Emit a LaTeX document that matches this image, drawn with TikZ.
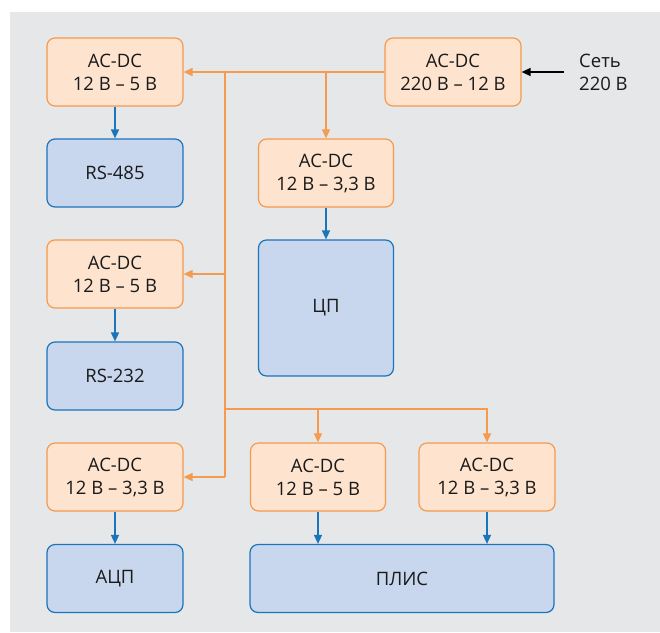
\documentclass[tikz,border=0pt]{standalone}
\usepackage{fontspec}
\setmainfont{Open Sans}
\usetikzlibrary{arrows.meta}
\definecolor{panel}{HTML}{E6E7E9}
\definecolor{ofill}{HTML}{FEE4CF}
\definecolor{oline}{HTML}{F59A4F}
\definecolor{bfill}{HTML}{C8D6EE}
\definecolor{bline}{HTML}{1B75BB}
\definecolor{txt}{HTML}{1A1A1A}
\tikzset{
  box/.style={rounded corners=8pt, line width=1.2pt, minimum width=136pt, minimum height=68pt,
    align=center, inner sep=0pt, text=txt, font=\fontsize{18.5}{23}\selectfont},
  obox/.style={box, draw=oline, fill=ofill},
  bbox/.style={box, draw=bline, fill=bfill},
  owire/.style={draw=oline, line width=1.5pt},
  oarrow/.style={owire, -{Triangle[length=9pt,width=8pt]}},
  barrow/.style={draw=bline, line width=1.5pt, -{Triangle[length=9pt,width=8pt]}},
  karrow/.style={draw=black, line width=1.5pt, -{Triangle[length=9pt,width=8pt]}},
}
\begin{document}
\begin{tikzpicture}[x=1pt,y=-1pt]
\useasboundingbox (0,0) rectangle (660,632);
\fill[panel] (10,12) rectangle (660,632);

\node[obox] (p1) at (115,72) {AC-DC\\12 В – 5 В};
\node[bbox] (rs485) at (115,173) {RS-485};
\node[obox] (p2) at (115,274) {AC-DC\\12 В – 5 В};
\node[bbox] (rs232) at (115,376) {RS-232};
\node[obox] (p3) at (115,477) {AC-DC\\12 В – 3,3 В};
\node[bbox] (adc) at (115,578.5) {АЦП};

\node[obox] (main) at (453,72) {AC-DC\\220 В – 12 В};
\node[obox, minimum width=135pt] (p4) at (326,173) {AC-DC\\12 В – 3,3 В};
\node[bbox, minimum width=135pt, minimum height=136pt] (cpu) at (326,308) {ЦП};

\node[obox, minimum width=135pt] (p5) at (318,477) {AC-DC\\12 В – 5 В};
\node[obox] (p6) at (487,477) {AC-DC\\12 В – 3,3 В};
\node[bbox, minimum width=304pt] (plis) at (402,578.5) {ПЛИС};

\node[anchor=west, align=left, inner sep=0pt, text=txt, font=\fontsize{18.5}{23}\selectfont] (net) at (579,72) {Сеть\\220 В};

\coordinate (j1) at (225,72);
\coordinate (j2) at (225,274);
\coordinate (j3) at (225,409);
\coordinate (j4) at (225,477);
\coordinate (nets) at (564,72);

\draw[karrow] (nets) -- (main.east);
\draw[oarrow] (main.west) -- (p1.east);
\draw[owire] (j1) -- (j4);
\draw[oarrow] (j2) -- (p2.east);
\draw[oarrow] (j4) -- (p3.east);
\draw[oarrow] (j3) -| (p5.north);
\draw[oarrow] (j3) -| (p6.north);
\draw[oarrow] (main.west -| p4.north) -- (p4.north);

\draw[barrow] (p1.south) -- (rs485.north);
\draw[barrow] (p2.south) -- (rs232.north);
\draw[barrow] (p3.south) -- (adc.north);
\draw[barrow] (p4.south) -- (cpu.north);
\draw[barrow] (p5.south) -- (p5.south |- plis.north);
\draw[barrow] (p6.south) -- (p6.south |- plis.north);
\end{tikzpicture}
\end{document}
